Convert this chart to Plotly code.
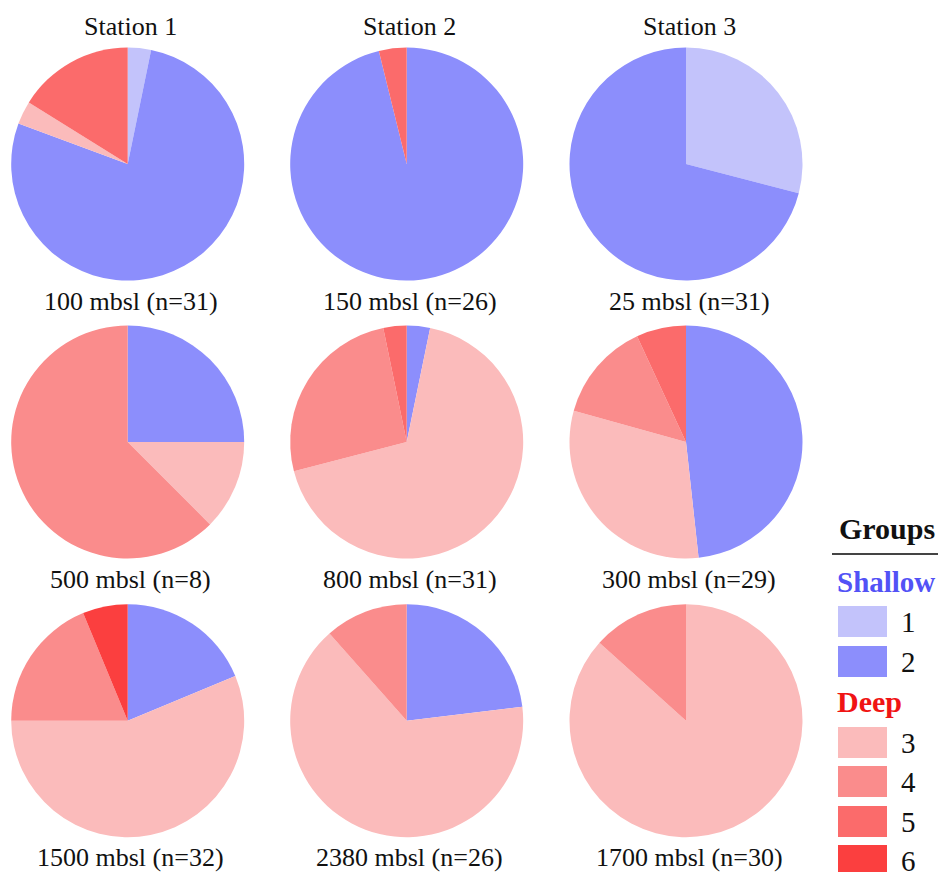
import plotly.graph_objects as go

# page offset (browser body margin) and figure size
OFF = 8
W, H = 946 - OFF, 872 - OFF

# ---- data ----
groups = ["1", "2", "3", "4", "5", "6"]
group_colors = ["#c3c3fb", "#8c8efc", "#fbbbbb", "#fa8c8c", "#fb6b6b", "#fb3f3f"]
shallow_groups = ["1", "2"]
deep_groups = ["3", "4", "5", "6"]

stations = ["Station 1", "Station 2", "Station 3"]
depth_labels = [
    ["100 mbsl (n=31)", "150 mbsl (n=26)", "25 mbsl (n=31)"],
    ["500 mbsl (n=8)", "800 mbsl (n=31)", "300 mbsl (n=29)"],
    ["1500 mbsl (n=32)", "2380 mbsl (n=26)", "1700 mbsl (n=30)"],
]
# counts per group 1..6
counts = [
    [[1, 24, 1, 0, 5, 0], [0, 25, 0, 0, 1, 0], [9, 22, 0, 0, 0, 0]],
    [[0, 2, 1, 5, 0, 0], [0, 1, 21, 8, 1, 0], [0, 14, 9, 4, 2, 0]],
    [[0, 6, 18, 6, 0, 2], [0, 6, 17, 3, 0, 0], [0, 0, 26, 4, 0, 0]],
]

# ---- layout geometry (window pixels) ----
col_cx = [127.7, 406.7, 686.0]
row_cy = [164.0, 442.0, 720.7]
R = 116.5
title_y = 26
label_y = [301, 579, 857]


def px(x):
    return (x - OFF) / W


def py(y):
    return 1 - (y - OFF) / H


fig = go.Figure()
for r in range(3):
    for c in range(3):
        cx, cy = col_cx[c], row_cy[r]
        fig.add_trace(go.Pie(
            labels=groups,
            values=counts[r][c],
            marker=dict(colors=group_colors, line=dict(width=0)),
            sort=False,
            direction="clockwise",
            rotation=0,
            textinfo="none",
            hoverinfo="label+value",
            showlegend=False,
            domain=dict(x=[px(cx - R), px(cx + R)], y=[py(cy + R), py(cy - R)]),
        ))

annotations = []
serif = "Liberation Serif, Times New Roman, serif"
for c, s in enumerate(stations):
    annotations.append(dict(x=px(col_cx[c] + 3), y=py(title_y), text=s, showarrow=False,
                            xref="paper", yref="paper", xanchor="center", yanchor="middle",
                            font=dict(family=serif, size=26, color="#111")))
for r in range(3):
    for c in range(3):
        annotations.append(dict(x=px(col_cx[c] + 3), y=py(label_y[r]), text=depth_labels[r][c],
                                showarrow=False, xref="paper", yref="paper",
                                xanchor="center", yanchor="middle",
                                font=dict(family=serif, size=26, color="#111")))

# ---- legend drawn manually ----
shapes = []
annotations.append(dict(x=px(837), y=py(528), text="<b>Groups</b>", showarrow=False,
                        xref="paper", yref="paper", xanchor="left", yanchor="middle",
                        font=dict(family=serif, size=30, color="#111")))
shapes.append(dict(type="line", xref="paper", yref="paper", x0=px(832), x1=px(946),
                   y0=py(554), y1=py(554), line=dict(color="#444", width=2)))
annotations.append(dict(x=px(835), y=py(582), text="<b>Shallow</b>", showarrow=False,
                        xref="paper", yref="paper", xanchor="left", yanchor="middle",
                        font=dict(family=serif, size=29, color="#5252f6")))
annotations.append(dict(x=px(835), y=py(701), text="<b>Deep</b>", showarrow=False,
                        xref="paper", yref="paper", xanchor="left", yanchor="middle",
                        font=dict(family=serif, size=30, color="#f01414")))
item_top = {"1": 606, "2": 646, "3": 727, "4": 766, "5": 806, "6": 845}
for g in shallow_groups + deep_groups:
    i = groups.index(g)
    t = item_top[g]
    shapes.append(dict(type="rect", xref="paper", yref="paper", x0=px(838), x1=px(887),
                       y0=py(t + 31), y1=py(t), fillcolor=group_colors[i], line=dict(width=0)))
    annotations.append(dict(x=px(899), y=py(t + 15.5), text=g, showarrow=False,
                            xref="paper", yref="paper", xanchor="left", yanchor="middle",
                            font=dict(family=serif, size=29, color="#111")))

fig.update_layout(
    width=W, height=H,
    margin=dict(l=0, r=0, t=0, b=0),
    paper_bgcolor="white", plot_bgcolor="white",
    annotations=annotations, shapes=shapes,
    showlegend=False,
)
fig.write_html("out.html")
